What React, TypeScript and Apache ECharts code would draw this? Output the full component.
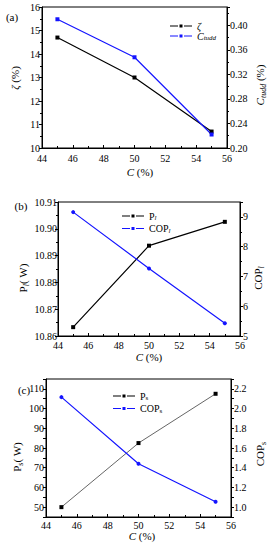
import React, { useEffect, useRef } from 'react';
import * as echarts from 'echarts';

// ---- data ----
const cValues = [45, 50, 55];
const zetaValues = [14.7, 13.0, 10.7];
const ctuddValues = [0.41, 0.348, 0.222];
const plValues = [10.8633, 10.8937, 10.9026];
const coplValues = [9.16, 7.27, 5.43];
const psValues = [50, 82.5, 107.5];
const copsValues = [2.116, 1.44, 1.054];

const FONT = '"Liberation Serif", "Times New Roman", serif';
const BLACK = '#000000';
const BLUE = '#1414ff';
const LEGEND_ICON = 'path://M0,1H8V2H0Z M9.5,0H12.5V3H9.5Z M14,1H22V2H14Z';

const pair = (ys: number[]) => cValues.map((c, i) => [c, ys[i]]);

const legendRich = {
  n: { fontSize: 10, fontFamily: FONT, color: '#000', lineHeight: 11 },
  i: { fontSize: 10, fontFamily: FONT, color: '#000', fontStyle: 'italic', lineHeight: 11 },
  s: { fontSize: 7, fontFamily: FONT, color: '#000', lineHeight: 11, verticalAlign: 'bottom' },
  si: { fontSize: 7, fontFamily: FONT, color: '#000', fontStyle: 'italic', lineHeight: 11, verticalAlign: 'bottom' },
};

const nameRich = {
  n: { fontSize: 11, fontFamily: FONT, color: '#000', lineHeight: 14 },
  i: { fontSize: 11, fontFamily: FONT, color: '#000', fontStyle: 'italic', lineHeight: 14 },
  s: { fontSize: 8, fontFamily: FONT, color: '#000', lineHeight: 14, verticalAlign: 'bottom' },
  si: { fontSize: 8, fontFamily: FONT, color: '#000', fontStyle: 'italic', lineHeight: 14, verticalAlign: 'bottom' },
};

const legendLabels: Record<string, string> = {
  'ζ': '{i|ζ}',
  'Ctudd': '{i|C}{si|tudd}',
  'Pl': '{n|P}{si|l}',
  'COPl': '{n|COP}{si|l}',
  'Ps': '{n|P}{s|s}',
  'COPs': '{n|COP}{s|s}',
};

function xAxis(gridIndex: number, margin: number) {
  return {
    type: 'value',
    gridIndex,
    min: 44,
    max: 56,
    interval: 2,
    axisLine: { show: true, lineStyle: { color: '#000', width: 1 } },
    axisTick: { show: true, inside: true, length: 3, lineStyle: { color: '#000' } },
    minorTick: { show: true, splitNumber: 2, length: 2, lineStyle: { color: '#000' } },
    splitLine: { show: false },
    axisLabel: { color: '#000', fontSize: 10, fontFamily: FONT, margin },
  };
}

function yAxis(
  gridIndex: number,
  position: 'left' | 'right',
  min: number,
  max: number,
  interval: number,
  formatter: (v: number) => string,
  minor: boolean,
  margin: number,
  showMaxLabel = true
) {
  return {
    type: 'value',
    gridIndex,
    position,
    min,
    max,
    interval,
    axisLine: { show: true, lineStyle: { color: '#000', width: 1 } },
    axisTick: { show: true, inside: false, length: 3, lineStyle: { color: '#000' } },
    minorTick: { show: minor, splitNumber: 2, length: 2, lineStyle: { color: '#000' } },
    splitLine: { show: false },
    axisLabel: {
      color: '#000',
      fontSize: 10,
      fontFamily: FONT,
      margin,
      formatter,
      showMaxLabel,
    },
  };
}

function series(
  name: string,
  x: number,
  y: number,
  data: number[],
  lineColor: string,
  markColor: string,
  symbol: string,
  width = 1.2
) {
  return {
    type: 'line',
    name,
    xAxisIndex: x,
    yAxisIndex: y,
    data: pair(data),
    symbol,
    symbolSize: 4,
    showSymbol: true,
    lineStyle: { color: lineColor, width },
    itemStyle: { color: markColor },
  };
}

function legend(names: string[], left: number, top: number, itemGap: number) {
  return {
    data: names,
    orient: 'vertical',
    left,
    top,
    icon: LEGEND_ICON,
    itemWidth: 22,
    itemHeight: 3,
    itemGap,
    formatter: (n: string) => legendLabels[n] ?? n,
    textStyle: { fontSize: 10, fontFamily: FONT, color: '#000', rich: legendRich },
  };
}

function gtext(text: string, x: number, y: number, rotate: boolean, size = 11) {
  return {
    type: 'text',
    x,
    y,
    rotation: rotate ? Math.PI / 2 : 0,
    style: {
      text,
      rich: nameRich,
      align: 'center',
      verticalAlign: 'middle',
      fontSize: size,
      fontFamily: FONT,
      fill: '#000',
    },
  };
}

export default function App() {
  const ref = useRef<HTMLDivElement>(null);

  useEffect(() => {
    if (!ref.current) return;
    const chart = echarts.init(ref.current, undefined, { renderer: 'svg' });
    const option = {
      animation: false,
      backgroundColor: '#ffffff',
      grid: [
        { left: 42, top: 7, width: 185, height: 141, show: true, borderColor: '#000', borderWidth: 1 },
        { left: 58, top: 202, width: 182, height: 134, show: true, borderColor: '#000', borderWidth: 1 },
        { left: 46, top: 379, width: 185, height: 138, show: true, borderColor: '#000', borderWidth: 1 },
      ],
      xAxis: [xAxis(0, 5), xAxis(1, 4), xAxis(2, 3)],
      yAxis: [
        yAxis(0, 'left', 10, 16, 1, (v) => String(Math.round(v)), true, 2),
        yAxis(0, 'right', 0.2, 0.43, 0.04, (v) => v.toFixed(2), true, 3, false),
        yAxis(1, 'left', 10.86, 10.91, 0.01, (v) => v.toFixed(2), true, 1),
        yAxis(1, 'right', 5, 9.5, 1, (v) => String(Math.round(v)), true, 3, false),
        yAxis(2, 'left', 45, 115, 5, (v) => (Math.round(v) % 10 === 0 ? String(Math.round(v)) : ''), false, 2),
        yAxis(2, 'right', 0.9, 2.3, 0.1, (v) => (Math.round(v * 10) % 2 === 0 ? v.toFixed(1) : ''), false, 3),
      ],
      legend: [
        legend(['ζ', 'Ctudd'], 165, 16, 0),
        legend(['Pl', 'COPl'], 117, 206, 2),
        legend(['Ps', 'COPs'], 108, 386, 2),
      ],
      series: [
        series('ζ', 0, 0, zetaValues, BLACK, BLACK, 'rect'),
        series('Ctudd', 0, 1, ctuddValues, BLUE, BLUE, 'rect'),
        series('Pl', 1, 2, plValues, BLACK, BLACK, 'rect'),
        series('COPl', 1, 3, coplValues, BLUE, BLUE, 'circle'),
        series('Ps', 2, 4, psValues, '#666666', BLACK, 'rect', 1),
        series('COPs', 2, 5, copsValues, BLUE, BLUE, 'circle'),
      ],
      graphic: [
        gtext('{n|(a)}', 12, 17, false),
        gtext('{i|C}{n| (%)}', 140, 172, false),
        gtext('{i|ζ}{n| (%)}', 15, 78, true),
        gtext('{i|C}{si|tudd}{n| (%)}', 260, 85, true),
        gtext('{n|(b)}', 21, 206, false),
        gtext('{i|C}{n| (%)}', 149, 357, false),
        gtext('{n|P}{si|l}{n|( W)}', 23, 278, true),
        gtext('{n|COP}{si|l}', 258, 278, true),
        gtext('{n|(c)}', 24, 390, false),
        gtext('{i|C}{n| (%)}', 142, 536, false),
        gtext('{n|P}{s|s}{n|( W)}', 17, 457, true),
        gtext('{n|COP}{s|s}', 260, 454, true),
      ],
    };
    chart.setOption(option as any);
    return () => chart.dispose();
  }, []);

  return (
    <div
      ref={ref}
      style={{ position: 'fixed', left: 0, top: 0, width: 270, height: 550, background: '#fff' }}
    />
  );
}
